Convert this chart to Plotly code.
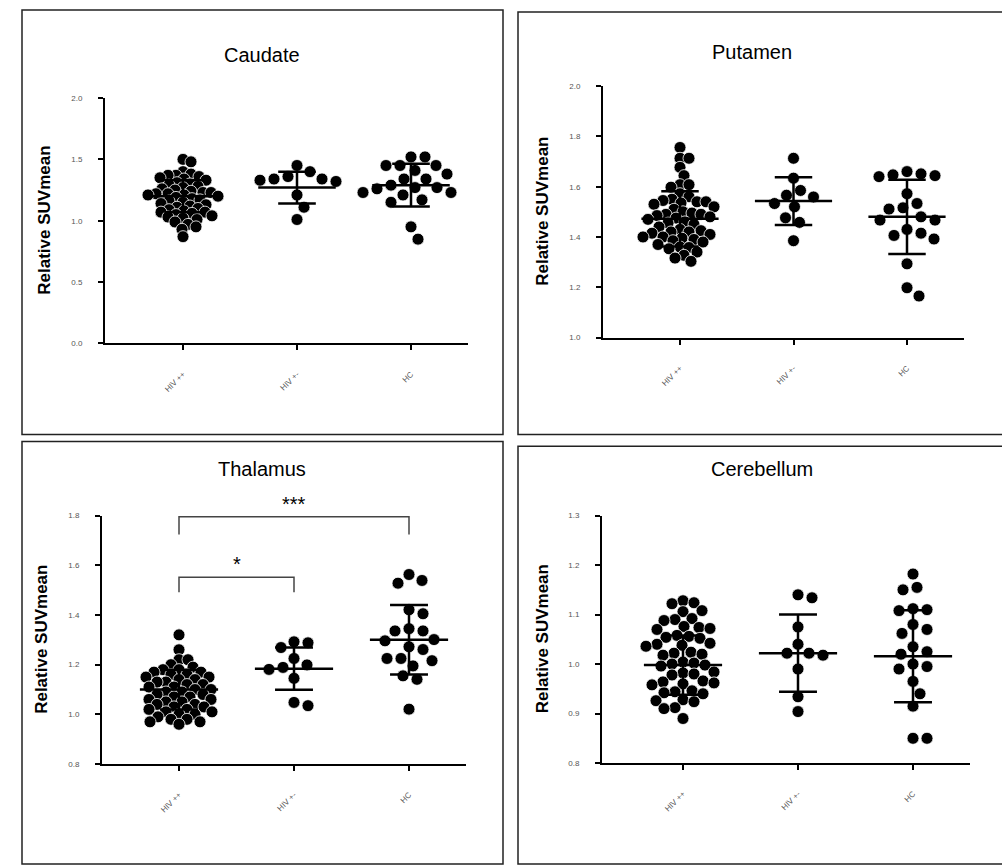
import plotly.graph_objects as go

# ---- data -------------------------------------------------------------
groups = ["HIV ++", "HIV +-", "HC"]
regions = ["Caudate", "Putamen", "Thalamus", "Cerebellum"]

caudate_g1 = [1.50, 1.48, 1.40, 1.38, 1.37, 1.37, 1.36, 1.35, 1.34, 1.33,
              1.31, 1.30, 1.29, 1.28, 1.27, 1.26, 1.25, 1.24, 1.23, 1.23,
              1.22, 1.22, 1.21, 1.21, 1.20, 1.19, 1.18, 1.17, 1.16, 1.15,
              1.14, 1.13, 1.12, 1.11, 1.10, 1.09, 1.08, 1.07, 1.07, 1.06,
              1.05, 1.04, 1.03, 1.02, 1.01, 0.99, 0.97, 0.95, 0.93, 0.87]
caudate_g2 = [1.45, 1.40, 1.36, 1.34, 1.34, 1.33, 1.32, 1.21, 1.11, 1.01]
caudate_g3 = [1.52, 1.52, 1.45, 1.45, 1.45, 1.41, 1.38, 1.34, 1.34, 1.29,
              1.27, 1.27, 1.26, 1.23, 1.23, 1.21, 1.17, 1.15, 0.95, 0.85]

putamen_g1 = [1.756, 1.713, 1.713, 1.677, 1.644, 1.608, 1.608, 1.598, 1.572, 1.560,
              1.550, 1.545, 1.540, 1.540, 1.535, 1.530, 1.520, 1.510, 1.500, 1.495,
              1.490, 1.490, 1.485, 1.480, 1.475, 1.470, 1.460, 1.455, 1.450, 1.440,
              1.430, 1.425, 1.420, 1.420, 1.415, 1.410, 1.400, 1.400, 1.395, 1.390,
              1.385, 1.380, 1.370, 1.360, 1.358, 1.353, 1.340, 1.327, 1.316, 1.303]
putamen_g2 = [1.713, 1.634, 1.585, 1.566, 1.559, 1.533, 1.520, 1.476, 1.458, 1.385]
putamen_g3 = [1.660, 1.651, 1.647, 1.644, 1.640, 1.572, 1.533, 1.516, 1.511, 1.480,
              1.467, 1.467, 1.430, 1.415, 1.406, 1.392, 1.293, 1.198, 1.165]

thalamus_g1 = [1.32, 1.26, 1.22, 1.22, 1.20, 1.19, 1.18, 1.18, 1.17, 1.17,
               1.16, 1.16, 1.15, 1.15, 1.14, 1.14, 1.13, 1.13, 1.12, 1.12,
               1.11, 1.11, 1.10, 1.10, 1.09, 1.09, 1.08, 1.08, 1.07, 1.07,
               1.06, 1.06, 1.05, 1.05, 1.04, 1.04, 1.03, 1.03, 1.02, 1.02,
               1.01, 1.01, 1.00, 1.00, 0.99, 0.98, 0.98, 0.97, 0.97, 0.96]
thalamus_g2 = [1.288, 1.292, 1.269, 1.225, 1.199, 1.181, 1.189, 1.145, 1.035, 1.048]
thalamus_g3 = [1.563, 1.528, 1.539, 1.421, 1.405, 1.336, 1.336, 1.345, 1.296, 1.301,
               1.272, 1.261, 1.225, 1.216, 1.225, 1.195, 1.155, 1.141, 1.021]

cerebellum_g1 = [1.128, 1.124, 1.122, 1.108, 1.106, 1.092, 1.090, 1.088, 1.076, 1.074,
                 1.072, 1.070, 1.058, 1.056, 1.054, 1.052, 1.042, 1.040, 1.038, 1.036,
                 1.024, 1.022, 1.020, 1.018, 1.004, 1.002, 1.000, 0.998, 0.996, 0.984,
                 0.982, 0.980, 0.978, 0.966, 0.964, 0.962, 0.960, 0.958, 0.946, 0.944,
                 0.942, 0.940, 0.928, 0.926, 0.924, 0.912, 0.910, 0.890]
cerebellum_g2 = [1.140, 1.134, 1.075, 1.040, 1.022, 1.018, 1.022, 0.990, 0.934, 0.904]
cerebellum_g3 = [1.182, 1.155, 1.150, 1.112, 1.110, 1.108, 1.080, 1.070, 1.062, 1.035,
                 1.025, 1.020, 1.000, 0.995, 0.990, 0.965, 0.940, 0.915, 0.850, 0.850]

# group mean and SD per region
caudate_mean, caudate_sd = [1.20, 1.27, 1.29], [0.13, 0.13, 0.175]
putamen_mean, putamen_sd = [1.472, 1.543, 1.480], [0.11, 0.095, 0.148]
thalamus_mean, thalamus_sd = [1.100, 1.184, 1.300], [0.08, 0.085, 0.14]
cerebellum_mean, cerebellum_sd = [0.998, 1.022, 1.016], [0.06, 0.078, 0.093]

# y-axis tick values per region (first and last give the axis range)
caudate_ticks = [0.0, 0.5, 1.0, 1.5, 2.0]
putamen_ticks = [1.0, 1.2, 1.4, 1.6, 1.8, 2.0]
thalamus_ticks = [0.8, 1.0, 1.2, 1.4, 1.6, 1.8]
cerebellum_ticks = [0.8, 0.9, 1.0, 1.1, 1.2, 1.3]

# significance brackets (thalamus): from group, to group, top, bottom, label
thal_brackets = [(0, 2, 1.796, 1.724, "***"), (0, 1, 1.552, 1.492, "*")]

# ---- page geometry (pixels) ------------------------------------------
W, H = 1002, 868
panels = [
    dict(name="Caudate", vals=[caudate_g1, caudate_g2, caudate_g3],
         mean=caudate_mean, sd=caudate_sd, ticks=caudate_ticks, pack=7.5,
         area=(105, 468, 95, 343), frame=(22, 503, 6, 435), title=(262, 52)),
    dict(name="Putamen", vals=[putamen_g1, putamen_g2, putamen_g3],
         mean=putamen_mean, sd=putamen_sd, ticks=putamen_ticks, pack=9,
         area=(603, 964, 83, 337), frame=(518, 1003, 8, 435), title=(752, 48)),
    dict(name="Thalamus", vals=[thalamus_g1, thalamus_g2, thalamus_g3],
         mean=thalamus_mean, sd=thalamus_sd, ticks=thalamus_ticks, pack=9,
         area=(102, 466, 517, 768), frame=(22, 503, 442, 869), title=(262, 470)),
    dict(name="Cerebellum", vals=[cerebellum_g1, cerebellum_g2, cerebellum_g3],
         mean=cerebellum_mean, sd=cerebellum_sd, ticks=cerebellum_ticks, pack=11,
         area=(602, 970, 517, 767), frame=(518, 1003, 447, 869), title=(762, 470)),
]
cat_px = [(183, 297, 411), (680, 793, 907), (179, 293, 409), (683, 799, 913)]

DOT = 12  # marker diameter, px


def swarm_offsets(vals, px_per_x, px_per_y, gap):
    """Horizontal beeswarm offsets (in axis units) so dots don't pile up."""
    placed = []
    out = [0.0] * len(vals)
    order = sorted(range(len(vals)), key=lambda i: -vals[i])
    for i in order:
        y = vals[i] * px_per_y
        chosen = None
        for k in range(0, 300):
            for s in ([0] if k == 0 else [k, -k]):
                if all((s - px) ** 2 + (y - py) ** 2 >= gap * gap for px, py in placed):
                    chosen = s
                    break
            if chosen is not None:
                break
        placed.append((chosen, y))
        out[i] = chosen / px_per_x
    return out


fig = go.Figure()
layout = dict(width=W, height=H, margin=dict(l=0, r=0, t=0, b=0),
              paper_bgcolor="white", plot_bgcolor="white", showlegend=False)
annotations, shapes = [], []
tick_font = dict(family="Arial", size=8, color="#555")

for p_i, p in enumerate(panels):
    n = "" if p_i == 0 else str(p_i + 1)
    xa, ya = "x" + n, "y" + n
    x0, x1, yt, yb = p["area"]
    c = cat_px[p_i]
    step = (c[2] - c[0]) / 2.0
    xr = [(x0 - c[0]) / step, (x1 - c[0]) / step]
    ticks = p["ticks"]
    yr = [ticks[0], ticks[-1]]
    px_per_y = (yb - yt) / (yr[1] - yr[0])

    for g, vals in enumerate(p["vals"]):
        # large groups are packed tighter, letting dots overlap
        gap = p["pack"] if len(vals) > 30 else 14
        offs = swarm_offsets(vals, step, px_per_y, gap)
        fig.add_trace(go.Scatter(
            x=[g + o for o in offs], y=vals, mode="markers", xaxis=xa, yaxis=ya,
            marker=dict(size=DOT, color="black", line=dict(color="white", width=0.8)),
            hoverinfo="y", cliponaxis=False))
        m, s = p["mean"][g], p["sd"][g]
        fig.add_trace(go.Scatter(
            x=[g - 0.34, g + 0.34, None, g, g, None, g - 0.165, g + 0.165, None, g - 0.165, g + 0.165],
            y=[m, m, None, m - s, m + s, None, m + s, m + s, None, m - s, m - s],
            mode="lines", line=dict(color="black", width=2.5), xaxis=xa, yaxis=ya,
            hoverinfo="skip", cliponaxis=False))

    layout["xaxis" + n] = dict(
        domain=[x0 / W, x1 / W], range=xr, anchor=ya, showgrid=False, zeroline=False,
        showline=True, linecolor="black", linewidth=2, ticks="outside", ticklen=5,
        tickwidth=2, tickcolor="black", tickmode="array", tickvals=[0, 1, 2],
        ticktext=groups, tickangle=-45, ticklabelstandoff=16, tickfont=tick_font)
    layout["yaxis" + n] = dict(
        domain=[1 - yb / H, 1 - yt / H], range=yr, anchor=xa, showgrid=False, zeroline=False,
        showline=True, linecolor="black", linewidth=2, ticks="outside", ticklen=5,
        tickwidth=2, tickcolor="black", tickmode="array", tickvals=ticks,
        ticktext=[f"{t:.1f}" for t in ticks], ticklabelstandoff=14, tickfont=tick_font)

    fx0, fx1, fy0, fy1 = p["frame"]
    shapes.append(dict(type="rect", xref="paper", yref="paper",
                       x0=fx0 / W, x1=fx1 / W, y0=1 - fy1 / H, y1=1 - fy0 / H,
                       line=dict(color="#222", width=1.5)))
    tx, ty = p["title"]
    annotations.append(dict(text=p["name"], xref="paper", yref="paper",
                            x=tx / W, y=1 - ty / H, xanchor="center", yanchor="middle",
                            showarrow=False,
                            font=dict(family="Arial", size=20, color="black")))
    annotations.append(dict(text="<b>Relative SUVmean</b>", xref="paper", yref="paper",
                            x=(x0 - 60) / W, y=1 - (yt + yb) / 2 / H, textangle=-90,
                            xanchor="center", yanchor="middle", showarrow=False,
                            font=dict(family="Arial", size=17, color="black")))

# significance brackets on the thalamus panel
for g0, g1, top, bot, lab in thal_brackets:
    fig.add_trace(go.Scatter(x=[g0, g0, g1, g1], y=[bot, top, top, bot], mode="lines",
                             line=dict(color="#444", width=1.5), xaxis="x3", yaxis="y3",
                             hoverinfo="skip", cliponaxis=False))
    annotations.append(dict(text=lab, x=(g0 + g1) / 2, y=top, xref="x3", yref="y3",
                            xanchor="center", yanchor="bottom", showarrow=False, yshift=0,
                            font=dict(family="Arial", size=20, color="black")))

layout["annotations"] = annotations
layout["shapes"] = shapes
fig.update_layout(**layout)
fig.write_html("out.html")
